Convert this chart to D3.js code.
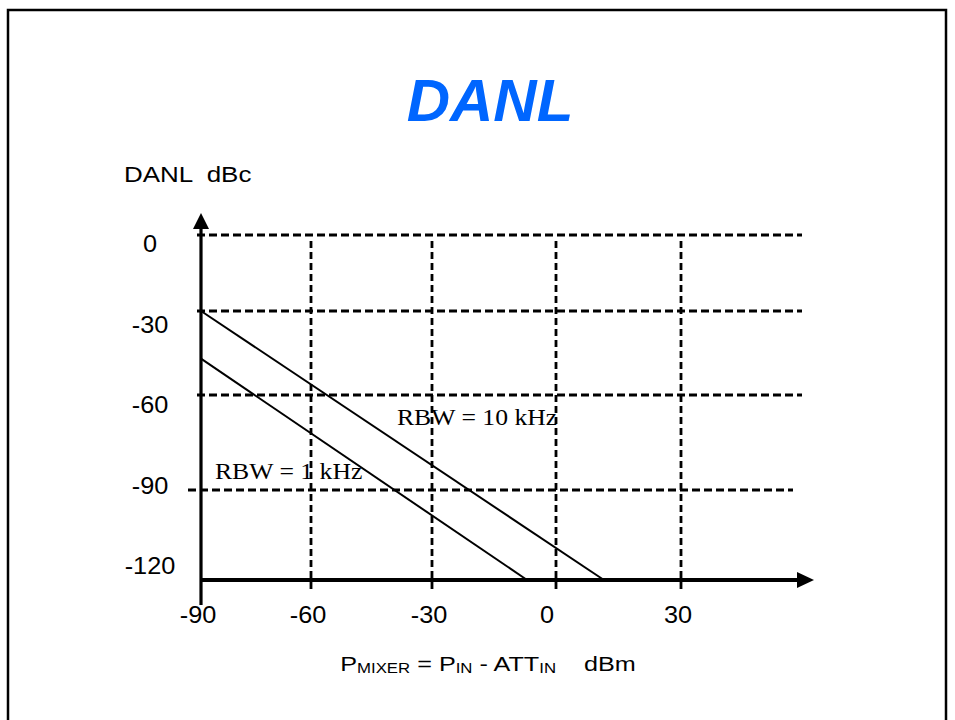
<!DOCTYPE html>
<html>
<head>
<meta charset="utf-8">
<script src="https://cdn.jsdelivr.net/npm/d3@7"></script>
<style>
  html, body { margin: 0; padding: 0; background: #fff; }
  svg { display: block; }
</style>
</head>
<body>
<svg id="chart" width="955" height="720"></svg>
<script>
// ---- data ----
const xTickValues = [-90, -60, -30, 0, 30];
const yTickValues = [0, -30, -60, -90, -120];
const xTickLabels = ["-90", "-60", "-30", "0", "30"];
const yTickLabels = ["0", "-30", "-60", "-90", "-120"];
const xGridValues = [-60, -30, 0, 30];
const yGridValues = [0, -30, -60, -90];
const seriesNames = ["RBW = 10 kHz", "RBW = 1 kHz"];
const rbw10kX = [-90, 11.5];
const rbw10kY = [-30, -120];
const rbw1kX = [-90, -7];
const rbw1kY = [-47, -120];
const titleText = "DANL";
const yAxisTitle = "DANL  dBc";

// ---- scales (hand-drawn slide: grid spacing is slightly uneven) ----
const x = d3.scaleLinear().domain(xTickValues).range([201, 311, 432, 556, 681]);
const y = d3.scaleLinear().domain(yTickValues).range([235, 311, 395, 490, 580]);
const yLabel = d3.scaleLinear().domain([0, -120]).range([252, 574]);

const svg = d3.select("#chart");
const SANS = "'Liberation Sans', Arial, sans-serif";
const SERIF = "'Liberation Serif', 'Times New Roman', serif";

// frame
svg.append("rect").attr("x", 8).attr("y", 10).attr("width", 938).attr("height", 730)
  .attr("fill", "none").attr("stroke", "#000").attr("stroke-width", 2.5);

// title
svg.append("text").attr("x", 490).attr("y", 121).attr("text-anchor", "middle")
  .attr("font-family", SANS).attr("font-weight", "bold").attr("font-style", "italic")
  .attr("font-size", 60).attr("fill", "#0066FF").text(titleText);

// y axis title (slide text is slightly stretched horizontally)
svg.append("text").attr("transform", "translate(124,182) scale(1.18,1)")
  .attr("font-family", SANS).attr("font-size", 22).attr("fill", "#000")
  .style("white-space", "pre").text(yAxisTitle);

// horizontal dashed gridlines
const xEnd = 802;
svg.append("g").selectAll("line").data(yGridValues).join("line")
  .attr("x1", d => d === -90 ? x(-90) - 13 : x(-90) - 4)
  .attr("x2", d => d === -90 ? xEnd - 9 : xEnd)
  .attr("y1", d => y(d)).attr("y2", d => y(d))
  .attr("stroke", "#000").attr("stroke-width", 3).attr("stroke-dasharray", "8,4");

// vertical dashed gridlines
svg.append("g").selectAll("line").data(xGridValues).join("line")
  .attr("x1", d => x(d)).attr("x2", d => x(d))
  .attr("y1", y(0) + 6).attr("y2", y(-120) + 10)
  .attr("stroke", "#000").attr("stroke-width", 2.8).attr("stroke-dasharray", "7,4");

// series lines
const lineGen = d3.line().x(d => x(d[0])).y(d => y(d[1]));
const series = [d3.zip(rbw10kX, rbw10kY), d3.zip(rbw1kX, rbw1kY)];
svg.append("g").selectAll("path").data(series).join("path")
  .attr("d", lineGen).attr("fill", "none").attr("stroke", "#000").attr("stroke-width", 2);

// axes
const x0 = x(-90), y0 = y(-120);
svg.append("line").attr("x1", x0).attr("x2", x0).attr("y1", 226).attr("y2", y0 + 25)
  .attr("stroke", "#000").attr("stroke-width", 3.2);
svg.append("path").attr("d", `M${x0},213 L${x0 + 8},229 L${x0 - 8},229 Z`).attr("fill", "#000");
svg.append("line").attr("x1", x0).attr("x2", 800).attr("y1", y0).attr("y2", y0)
  .attr("stroke", "#000").attr("stroke-width", 3.8);
svg.append("path").attr("d", `M814,${y0} L797,${y0 - 8} L797,${y0 + 8} Z`).attr("fill", "#000");

// y tick labels
svg.append("g").selectAll("text").data(yTickValues).join("text")
  .attr("transform", d => `translate(150,${yLabel(d)}) scale(1.1,1)`).attr("text-anchor", "middle")
  .attr("font-family", SANS).attr("font-size", 23)
  .text((d, i) => yTickLabels[i]);

// x tick labels
svg.append("g").selectAll("text").data(xTickValues).join("text")
  .attr("transform", d => `translate(${x(d) - (d === 0 ? 9 : 3)},623) scale(1.1,1)`).attr("text-anchor", "middle")
  .attr("font-family", SANS).attr("font-size", 23)
  .text((d, i) => xTickLabels[i]);

// x axis title with subscripts
const xt = svg.append("text").attr("transform", "translate(488,671) scale(1.2,1)")
  .attr("text-anchor", "middle").attr("font-family", SANS).attr("font-size", 21)
  .style("white-space", "pre");
xt.append("tspan").text("P");
xt.append("tspan").attr("font-size", 14).attr("dy", 2).text("MIXER");
xt.append("tspan").attr("dy", -2).text(" = P");
xt.append("tspan").attr("font-size", 14).attr("dy", 2).text("IN");
xt.append("tspan").attr("dy", -2).text(" - ATT");
xt.append("tspan").attr("font-size", 14).attr("dy", 2).text("IN");
xt.append("tspan").attr("dy", -2).text("    dBm");

// series labels
svg.append("text").attr("transform", "translate(397,425) scale(1.07,1)")
  .attr("font-family", SERIF).attr("font-size", 24).text(seriesNames[0]);
svg.append("text").attr("transform", "translate(215,479) scale(1.07,1)")
  .attr("font-family", SERIF).attr("font-size", 24).text(seriesNames[1]);
</script>
</body>
</html>
